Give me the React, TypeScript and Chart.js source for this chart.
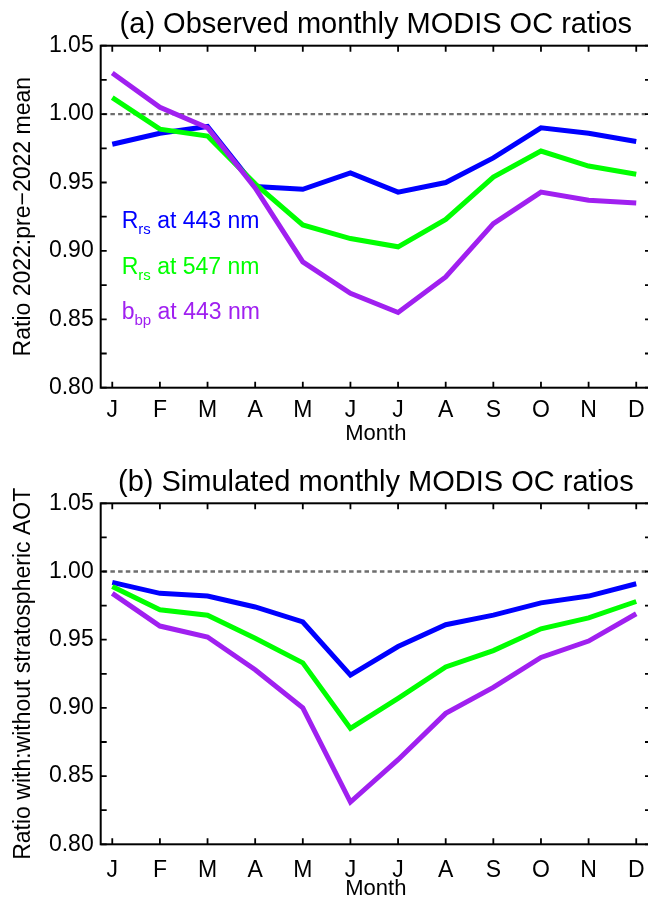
import React, { useEffect, useRef } from 'react';
import { Chart, registerables } from 'chart.js';
Chart.register(...registerables);

const MONTHS = ['J', 'F', 'M', 'A', 'M', 'J', 'J', 'A', 'S', 'O', 'N', 'D'];
const Y_TICKS = [0.8, 0.85, 0.9, 0.95, 1.0, 1.05];
const Y_MINOR = [0.825, 0.875, 0.925, 0.975, 1.025];
const REF_LINE = 1.0;

const OBS_RRS443 = [0.978, 0.986, 0.991, 0.947, 0.945, 0.957, 0.943, 0.95, 0.968, 0.99, 0.986, 0.98];
const OBS_RRS547 = [1.012, 0.989, 0.984, 0.949, 0.919, 0.909, 0.903, 0.923, 0.954, 0.973, 0.962, 0.956];
const OBS_BBP443 = [1.03, 1.005, 0.99, 0.946, 0.892, 0.869, 0.855, 0.881, 0.92, 0.943, 0.937, 0.935];

const SIM_RRS443 = [0.992, 0.984, 0.982, 0.974, 0.963, 0.924, 0.945, 0.961, 0.968, 0.977, 0.982, 0.991];
const SIM_RRS547 = [0.989, 0.972, 0.968, 0.951, 0.933, 0.885, 0.907, 0.93, 0.942, 0.958, 0.966, 0.978];
const SIM_BBP443 = [0.984, 0.96, 0.952, 0.928, 0.9, 0.831, 0.862, 0.896, 0.915, 0.937, 0.949, 0.969];

const SERIES_MAIN = ['R', 'R', 'b'];
const SERIES_SUB = ['rs', 'rs', 'bp'];
const SERIES_REST = [' at 443 nm', ' at 547 nm', ' at 443 nm'];
const COLORS = ['#0000ff', '#00ff00', '#a020f0'];

const FONT = "'Liberation Sans', Arial, Helvetica, sans-serif";
const CW = 660;
const CH = 450;
const X_MIN = -0.243;
const X_MAX = 11.31;

const framePlugin = {
  id: 'frame',
  beforeDatasetsDraw(chart: any) {
    const { ctx, chartArea: a, scales } = chart;
    const y = scales.y.getPixelForValue(REF_LINE);
    ctx.save();
    ctx.strokeStyle = '#6e6e6e';
    ctx.lineWidth = 2.4;
    ctx.setLineDash([4.5, 3.2]);
    ctx.beginPath();
    ctx.moveTo(a.left + 2, y);
    ctx.lineTo(a.right, y);
    ctx.stroke();
    ctx.restore();
  },
  afterDraw(chart: any, _args: any, opts: any) {
    const { ctx, chartArea: a, scales } = chart;
    ctx.save();
    ctx.strokeStyle = '#000';
    ctx.lineWidth = 2;
    ctx.strokeRect(a.left, a.top, a.right - a.left, a.bottom - a.top);
    ctx.lineWidth = 1.8;
    const tl = 6;
    ctx.beginPath();
    scales.x.ticks.forEach((t: any) => {
      const px = scales.x.getPixelForValue(t.value);
      ctx.moveTo(px, a.bottom);
      ctx.lineTo(px, a.bottom - tl);
      ctx.moveTo(px, a.top);
      ctx.lineTo(px, a.top + tl);
    });
    [...Y_TICKS, ...Y_MINOR].forEach((v) => {
      const py = scales.y.getPixelForValue(v);
      ctx.moveTo(a.left, py);
      ctx.lineTo(a.left + tl, py);
      ctx.moveTo(a.right, py);
      ctx.lineTo(a.right - tl, py);
    });
    ctx.stroke();

    if (opts && opts.legend) {
      const x0 = a.left + 21;
      chart.data.datasets.forEach((ds: any, i: number) => {
        const base = a.top + 182.6 + i * 45.4;
        ctx.fillStyle = ds.borderColor;
        ctx.textBaseline = 'alphabetic';
        ctx.textAlign = 'left';
        ctx.font = `23px ${FONT}`;
        let x = x0;
        ctx.fillText(SERIES_MAIN[i], x, base);
        x += ctx.measureText(SERIES_MAIN[i]).width;
        ctx.font = `15px ${FONT}`;
        ctx.fillText(SERIES_SUB[i], x, base + 6);
        x += ctx.measureText(SERIES_SUB[i]).width;
        ctx.font = `23px ${FONT}`;
        ctx.fillText(SERIES_REST[i], x, base);
      });
    }
    ctx.restore();
  },
};

type Panel = {
  title: string;
  ylabel: string;
  series: number[][];
  titleTop: number;
  titleBottom: number;
  bottom: number;
  xTickPad: number;
  xTitlePad: number;
  legend: boolean;
};

function makeConfig(p: Panel): any {
  return {
    type: 'line',
    data: {
      datasets: p.series.map((vals, i) => ({
        label: SERIES_MAIN[i] + SERIES_SUB[i] + SERIES_REST[i],
        data: vals.map((v, k) => ({ x: k, y: v })),
        borderColor: COLORS[i],
        backgroundColor: COLORS[i],
        borderWidth: 5,
        pointRadius: 0,
        tension: 0,
        fill: false,
        order: 2 - i,
      })),
    },
    options: {
      responsive: false,
      animation: false,
      events: [],
      layout: { padding: { left: 0, right: CW - 651, top: 0, bottom: 0 } },
      plugins: {
        legend: { display: false },
        tooltip: { enabled: false },
        title: {
          display: true,
          text: p.title,
          fullSize: false,
          color: '#000',
          font: { family: FONT, size: 29, weight: 'normal', lineHeight: 1.2 },
          padding: { top: p.titleTop, bottom: p.titleBottom },
        },
        frame: { legend: p.legend },
      },
      scales: {
        x: {
          type: 'linear',
          min: X_MIN,
          max: X_MAX,
          afterBuildTicks: (s: any) => {
            s.ticks = MONTHS.map((_, i) => ({ value: i }));
          },
          afterFit: (s: any) => {
            s.height = CH - p.bottom;
          },
          grid: { display: false, drawTicks: false, tickLength: 0 },
          border: { display: false },
          ticks: {
            autoSkip: false,
            maxRotation: 0,
            minRotation: 0,
            padding: p.xTickPad,
            color: '#000',
            font: { family: FONT, size: 23 },
            callback: (v: any) => MONTHS[Math.round(Number(v))],
          },
          title: {
            display: true,
            text: 'Month',
            color: '#000',
            font: { family: FONT, size: 22, lineHeight: 1 },
            padding: { top: 0, bottom: p.xTitlePad },
          },
        },
        y: {
          type: 'linear',
          min: 0.8,
          max: 1.05,
          afterBuildTicks: (s: any) => {
            s.ticks = Y_TICKS.map((v) => ({ value: v }));
          },
          afterFit: (s: any) => {
            s.width = 100.7;
          },
          grid: { display: false, drawTicks: false, tickLength: 0 },
          border: { display: false },
          ticks: {
            padding: 7,
            color: '#000',
            font: { family: FONT, size: 23 },
            callback: (v: any) => Number(v).toFixed(2),
          },
          title: {
            display: true,
            text: p.ylabel,
            color: '#000',
            font: { family: FONT, size: 23, lineHeight: 1.2 },
            padding: { top: 10.2, bottom: 0 },
          },
        },
      },
    },
    plugins: [framePlugin],
  };
}

const PANEL_A: Panel = {
  title: '(a) Observed monthly MODIS OC ratios',
  ylabel: 'Ratio 2022:pre\u22122022 mean',
  series: [OBS_RRS443, OBS_RRS547, OBS_BBP443],
  titleTop: 7.6,
  titleBottom: 3.3,
  bottom: 387.7,
  xTickPad: 9,
  xTitlePad: 5,
  legend: true,
};

const PANEL_B: Panel = {
  title: '(b) Simulated monthly MODIS OC ratios',
  ylabel: 'Ratio with:without stratospheric AOT',
  series: [SIM_RRS443, SIM_RRS547, SIM_BBP443],
  titleTop: 15.1,
  titleBottom: 3.4,
  bottom: 394.3,
  xTickPad: 12.5,
  xTitlePad: 0,
  legend: false,
};

function PanelChart({ panel, top }: { panel: Panel; top: number }) {
  const ref = useRef<HTMLCanvasElement>(null);
  useEffect(() => {
    if (!ref.current) return;
    const chart = new Chart(ref.current, makeConfig(panel));
    return () => chart.destroy();
  }, [panel]);
  return (
    <canvas
      ref={ref}
      width={CW}
      height={CH}
      style={{ position: 'absolute', left: 0, top, width: CW, height: CH, display: 'block' }}
    />
  );
}

export default function App() {
  return (
    <div
      style={{
        position: 'absolute',
        left: 0,
        top: 0,
        width: 648,
        height: 900,
        overflow: 'hidden',
        background: '#fff',
      }}
    >
      <PanelChart panel={PANEL_A} top={0} />
      <PanelChart panel={PANEL_B} top={450} />
    </div>
  );
}
